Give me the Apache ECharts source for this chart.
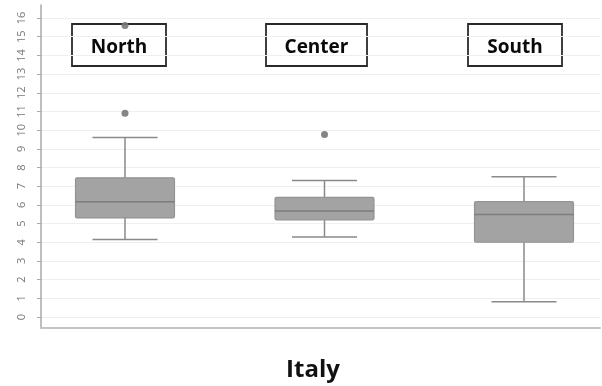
<!DOCTYPE html>
<html>
<head>
<meta charset="utf-8">
<script src="https://cdn.jsdelivr.net/npm/echarts@6/dist/echarts.min.js"></script>
<style>html,body{margin:0;padding:0;background:#fff}#c{width:602px;height:386px}</style>
</head>
<body>
<div id="c"></div>
<script>
// Data
const categories = ['North', 'Center', 'South'];
// [min, Q1, median, Q3, max]
const boxValues = [
  [4.15, 5.3, 6.17, 7.45, 9.6],
  [4.28, 5.2, 5.67, 6.4, 7.3],
  [0.82, 4.0, 5.49, 6.17, 7.5]
];
// outliers: [categoryIndex, value]
const outliers = [[0, 10.9], [0, 15.6], [1, 9.77]];
const yTicks = [0, 16];
const xTitle = 'Italy';

const chart = echarts.init(document.getElementById('c'), null, {renderer: 'canvas'});
const FONT = '"Open Sans", sans-serif';

function labelBox(cx, w, text) {
  return {
    type: 'group', z: 0,
    children: [
      {type: 'rect', shape: {x: cx - w / 2, y: 24, width: w, height: 42},
       style: {fill: '#fff', stroke: '#2a2a2a', lineWidth: 1.8}, z: 0},
      {type: 'text', x: cx, y: 48,
       style: {text: text, font: 'bold 19px ' + FONT, fill: '#0a0a0a', align: 'center', verticalAlign: 'middle'}, z: 1}
    ]
  };
}

const option = {
  animation: false,
  grid: [
    {left: 41, right: 2, top: 5, bottom: 58},
    {left: 41, right: 2, top: 18, bottom: 69},
    {left: 125, right: 78, top: 18, bottom: 69}
  ],
  xAxis: [
    {gridIndex: 0, type: 'value', min: 0, max: 1,
     axisLine: {show: true, onZero: false, lineStyle: {color: '#c4c4c4', width: 2}},
     axisTick: {show: false}, axisLabel: {show: false}, splitLine: {show: false}},
    {gridIndex: 1, type: 'value', min: 0, max: 1, show: false},
    {gridIndex: 2, type: 'category', data: categories, boundaryGap: false, show: false}
  ],
  yAxis: [
    {gridIndex: 0, type: 'value', min: -0.6, max: 16.7,
     axisLine: {show: true, onZero: false, lineStyle: {color: '#a8a8a8', width: 1.5}},
     axisTick: {show: false}, axisLabel: {show: false}, splitLine: {show: false}},
    {gridIndex: 1, type: 'value', min: yTicks[0], max: yTicks[1], interval: 1,
     axisLine: {show: false},
     axisTick: {show: true, length: 4, lineStyle: {color: '#aaa'}},
     axisLabel: {rotate: 90, fontSize: 11, color: '#777', margin: 14, fontFamily: FONT},
     splitLine: {show: true, lineStyle: {color: '#efefef', width: 1}}},
    {gridIndex: 2, type: 'value', min: yTicks[0], max: yTicks[1], show: false}
  ],
  graphic: [
    labelBox(119, 94, categories[0]),
    labelBox(316.5, 101, categories[1]),
    labelBox(515, 94, categories[2]),
    {type: 'text', x: 313, y: 370, z: 0,
     style: {text: xTitle, font: 'bold 24px ' + FONT, fill: '#111', align: 'center', verticalAlign: 'middle'}}
  ],
  series: [
    {
      type: 'custom', xAxisIndex: 2, yAxisIndex: 2, z: 3,
      data: boxValues.map((v, i) => [i].concat(v)),
      renderItem: function (params, api) {
        const i = api.value(0);
        const band = api.size([1, 0])[0];
        const bw = band * 0.496, cw = band * 0.326;
        const pMin = api.coord([i, api.value(1)]);
        const pQ1 = api.coord([i, api.value(2)]);
        const pMed = api.coord([i, api.value(3)]);
        const pQ3 = api.coord([i, api.value(4)]);
        const pMax = api.coord([i, api.value(5)]);
        const x = pMed[0];
        const ls = {stroke: '#8a8a8a', lineWidth: 1.5};
        return {
          type: 'group',
          children: [
            {type: 'line', shape: {x1: x, y1: pMax[1], x2: x, y2: pQ3[1]}, style: ls},
            {type: 'line', shape: {x1: x, y1: pQ1[1], x2: x, y2: pMin[1]}, style: ls},
            {type: 'line', shape: {x1: x - cw / 2, y1: pMax[1], x2: x + cw / 2, y2: pMax[1]}, style: ls},
            {type: 'line', shape: {x1: x - cw / 2, y1: pMin[1], x2: x + cw / 2, y2: pMin[1]}, style: ls},
            {type: 'rect', shape: {x: x - bw / 2, y: pQ3[1], width: bw, height: pQ1[1] - pQ3[1], r: 1.5},
             style: {fill: '#a3a3a3', stroke: '#939393', lineWidth: 1.2}},
            {type: 'line', shape: {x1: x - bw / 2, y1: pMed[1], x2: x + bw / 2, y2: pMed[1]},
             style: {stroke: '#7c7c7c', lineWidth: 1.5}}
          ]
        };
      }
    },
    {
      type: 'scatter', xAxisIndex: 2, yAxisIndex: 2, z: 5,
      data: outliers, symbolSize: 7,
      itemStyle: {color: '#787878', opacity: 0.9}
    }
  ]
};
chart.setOption(option);
</script>
</body>
</html>
